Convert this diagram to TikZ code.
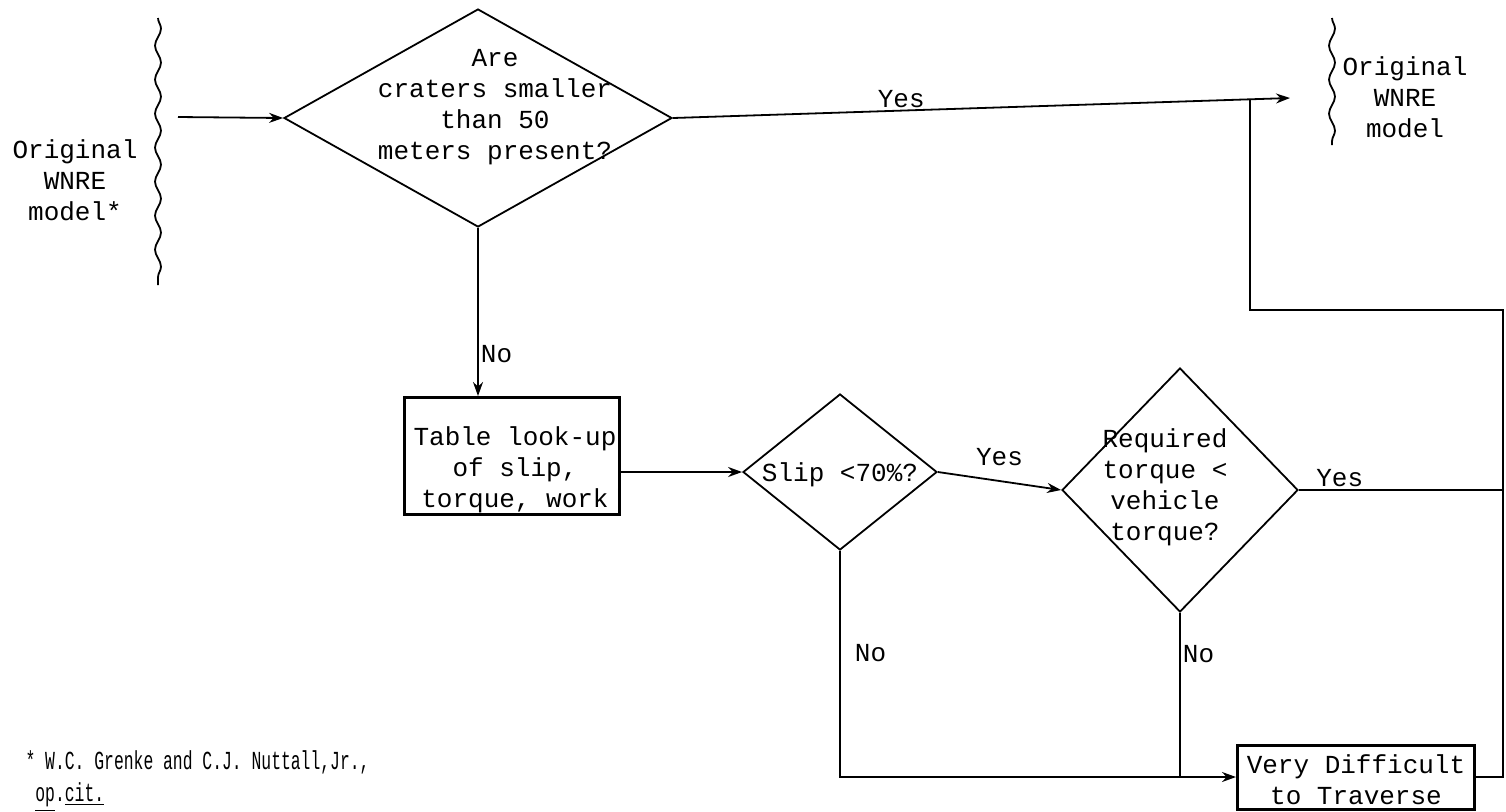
\documentclass[tikz,border=0pt]{standalone}
\usepackage{fontspec}
\setmonofont{Liberation Mono}
\usetikzlibrary{shapes.geometric,decorations.pathmorphing,arrows.meta}
\begin{document}
\begin{tikzpicture}[>={Stealth[length=7pt,width=5pt]}, x=0.5pt, y=-0.5pt, line width=0.9pt,
  txt/.style={font=\ttfamily\fontsize{13}{15.5}\selectfont, align=center, inner sep=1pt},
  dec/.style={draw, diamond, inner sep=0pt},
  blk/.style={draw, line width=1.5pt, inner sep=0pt},
  wavy/.style={decorate, decoration={snake, amplitude=1.5pt, segment length=17pt}}]
 \useasboundingbox (0,0) rectangle (1506,811);
 % cut ends of the WNRE model
 \draw[wavy] (158,18) -- (158,285);
 \node[txt] (orig1) at (75,180) {Original\\WNRE\\model*};
 \draw[wavy] (1332,18) -- (1332,145);
 \node[txt] (orig2) at (1405,97) {Original\\WNRE\\model};
 % decisions and boxes
 \node[dec, minimum width=194pt, minimum height=109pt] (d1) at (478,118) {};
 \node[txt] (d1t) at (495,107) {Are\\craters smaller\\than 50\\meters present?};
 \node[blk, minimum width=107.5pt, minimum height=58.5pt] (b1) at (512,456) {};
 \node[txt] (b1t) at (515,470) {Table look-up\\of slip,\\torque, work};
 \node[dec, minimum width=97pt, minimum height=78pt] (d2) at (840,472) {};
 \node[txt] (d2t) at (840,475) {Slip <70\%?};
 \node[dec, minimum width=118pt, minimum height=122pt] (d3) at (1180,490) {};
 \node[txt] (d3t) at (1165,487) {Required\\torque <\\vehicle\\torque?};
 \node[blk, minimum width=118.5pt, minimum height=32pt] (b2) at (1356,777) {};
 \node[txt] (b2t) at (1356,780) {Very Difficult\\to Traverse};
 % connectors
 \coordinate (in) at (178,117);
 \coordinate (out) at (1290,98);
 \coordinate (j1) at (1250,99);
 \coordinate (j2) at (1503,310);
 \draw[->] (in) -- (d1.west);
 \draw[->] (d1.east) -- node[txt, above, pos=0.37] {Yes} (out);
 \draw[->] (d1.south) -- node[txt, right, pos=0.75] {No} (d1.south |- b1.north);
 \draw[->] (b1.east |- d2.west) -- (d2.west);
 \draw[->] (d2.east) -- node[txt, above=6pt] {Yes} (d3.west);
 \draw (d3.east) -- node[txt, above, pos=0.2] {Yes} (d3.east -| j2);
 \draw (j1) |- (j2) |- (b2.east);
 \draw[->] (d2.south) -- node[txt, right=6pt, pos=0.45] {No} (d2.south |- b2.west) -- (b2.west);
 \draw (d3.south) -- node[txt, right, pos=0.25] {No} (d3.south |- b2.west);
 % footnote
 \node[anchor=west, align=left, font=\ttfamily\fontsize{13}{16}\selectfont] (note) at (18,781)
  {\scalebox{0.63}[1]{* W.C. Grenke and C.J. Nuttall,Jr.,}\\
   \scalebox{0.63}[1]{\ \underline{op}.\underline{cit.}}};
\end{tikzpicture}
\end{document}
